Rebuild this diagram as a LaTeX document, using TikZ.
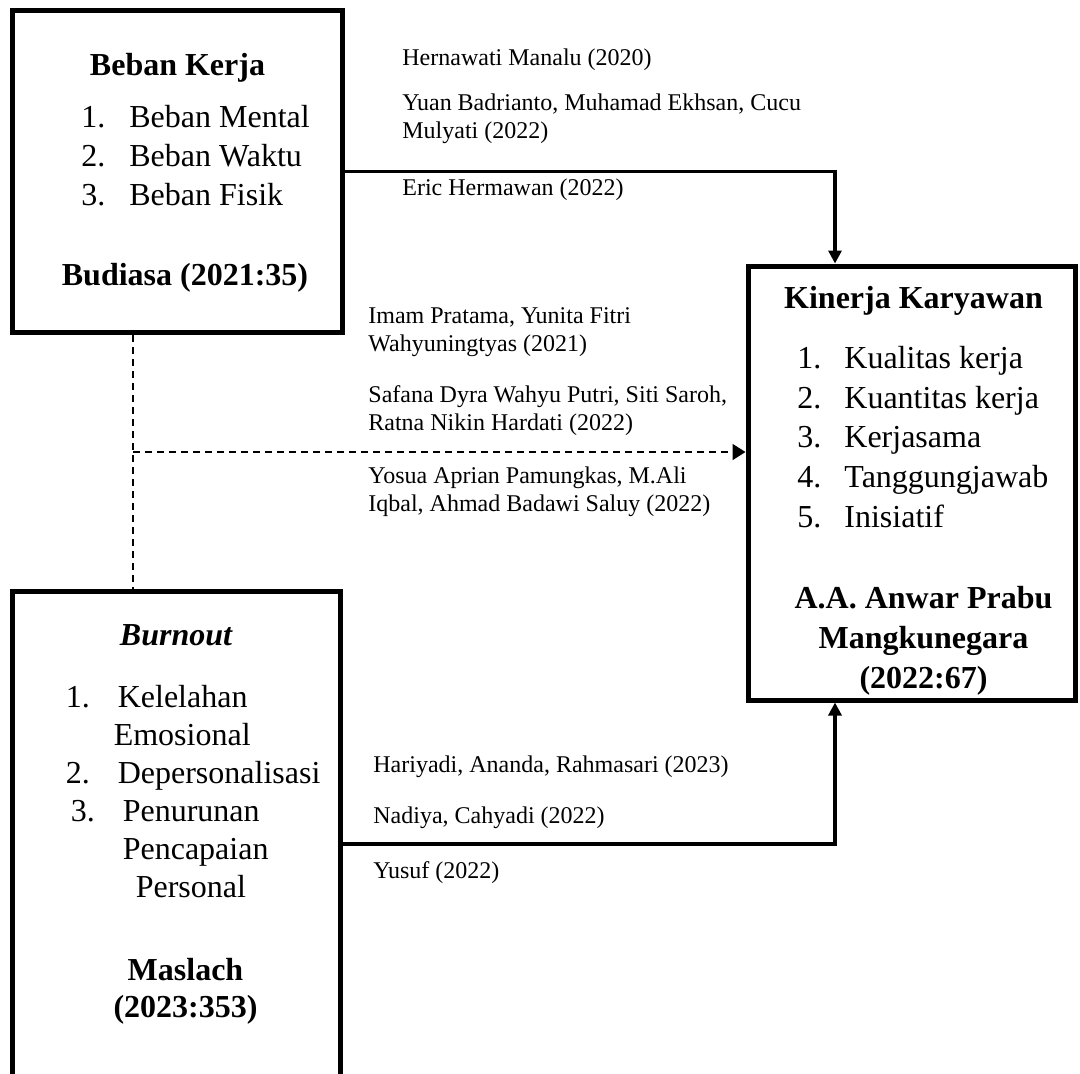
\documentclass[tikz,border=0pt]{standalone}
\usepackage{fontspec}
\setmainfont{Liberation Serif}
\usetikzlibrary{matrix, arrows.meta}
\newcommand{\boxfont}{\fontsize{16}{20}\selectfont}
\newcommand{\refont}{\fontsize{12}{14}\selectfont}

\begin{document}
\begin{tikzpicture}[
    x=0.5pt, y=-0.5pt,
    varbox/.style={draw, line width=2.5pt, inner sep=0pt},
    title/.style={anchor=base, inner sep=0pt, font=\boxfont\bfseries},
    source/.style={anchor=base, align=center, inner sep=0pt, font=\boxfont\bfseries},
    itemlist/.style={matrix of nodes, matrix anchor=north west, inner sep=0pt,
        nodes={anchor=base west, inner sep=0pt, text height=12pt, text depth=4pt, font=\boxfont}},
    ref/.style={anchor=base west, align=left, inner sep=0pt, font=\refont},
    link/.style={line width=1.6pt, -{Triangle[length=6.5pt, width=6.5pt]}},
    dlink/.style={line width=0.8pt, dash pattern=on 3.5pt off 2.5pt},
    ]
    \useasboundingbox (0,0) rectangle (1080,1073);
    \clip (0,0) rectangle (1080,1073);

    % variable boxes
    \node[varbox, minimum width=165pt, minimum height=161pt] (bk) at (177.5,171.5) {};
    \node[varbox, minimum width=163.5pt, minimum height=217pt] (kk) at (911.5,483) {};
    \node[varbox, minimum width=163.75pt, minimum height=253pt] (bo) at (176.25,844) {};

    % Beban Kerja
    \node[title] (bk-title) at (177.5,75) {Beban Kerja};
    \matrix[itemlist, row sep=3.5pt, column sep=12pt] (bk-list) at (81,103)
        {
            1. & Beban Mental \\
            2. & Beban Waktu \\
            3. & Beban Fisik \\
        };
    \node[source] (bk-src) at (185,285) {Budiasa (2021:35)};

    % Kinerja Karyawan
    \node[title] (kk-title) at (913.5,308) {Kinerja Karyawan};
    \matrix[itemlist, row sep=3.875pt, column sep=11.5pt] (kk-list) at (797,344)
        {
            1. & Kualitas kerja \\
            2. & Kuantitas kerja \\
            3. & Kerjasama \\
            4. & Tanggungjawab \\
            5. & Inisiatif \\
        };
    % base of a multi-line node = last line
    \node[source] (kk-src) at (923.5,688) {A.A. Anwar Prabu\\Mangkunegara\\(2022:67)};

    % Burnout
    \node[title, font=\boxfont\bfseries\itshape] (bo-title) at (176,645) {Burnout};
    \matrix[itemlist, row sep=3pt, column sep=11.5pt] (bo-list) at (65,683)
        {
            1. & Kelelahan \\
               & \hspace{-2pt}Emosional \\
            2. & Depersonalisasi \\
            \hspace{2.5pt}3. & \hspace{2.5pt}Penurunan \\
               & \hspace{2.5pt}Pencapaian \\
               & \hspace{9pt}Personal \\
        };
    \node[source] (bo-src) at (185.5,1017) {Maslach\\[-1.5pt](2023:353)};

    % references
    \node[ref] (r-hern) at (402,65) {Hernawati Manalu (2020)};
    \node[ref] (r-yuan) at (402,138) {Yuan Badrianto, Muhamad Ekhsan, Cucu\\Mulyati (2022)};
    \node[ref] (r-eric) at (402,195) {Eric Hermawan (2022)};
    \node[ref] (r-imam) at (368,351) {Imam Pratama, Yunita Fitri\\Wahyuningtyas (2021)};
    \node[ref] (r-safana) at (368,430) {Safana Dyra Wahyu Putri, Siti Saroh,\\Ratna Nikin Hardati (2022)};
    \node[ref] (r-yosua) at (368,511) {Yosua Aprian Pamungkas, M.Ali\\Iqbal, Ahmad Badawi Saluy (2022)};
    \node[ref] (r-hari) at (373,772) {Hariyadi, Ananda, Rahmasari (2023)};
    \node[ref] (r-nadiya) at (373,823) {Nadiya, Cahyadi (2022)};
    \node[ref] (r-yusuf) at (373,878) {Yusuf (2022)};

    % connectors
    \coordinate (fork) at (133,452);
    \draw[link] (bk.east) -| (kk.north -| 835,0);
    \draw[link] (bo.east) -| (kk.south -| 835,0);
    \draw[dlink] (bk.south -| fork) -- (bo.north -| fork);
    \draw[dlink, -{Triangle[length=6.5pt, width=8pt]}] (fork) -- (fork -| kk.west);
\end{tikzpicture}
\end{document}
